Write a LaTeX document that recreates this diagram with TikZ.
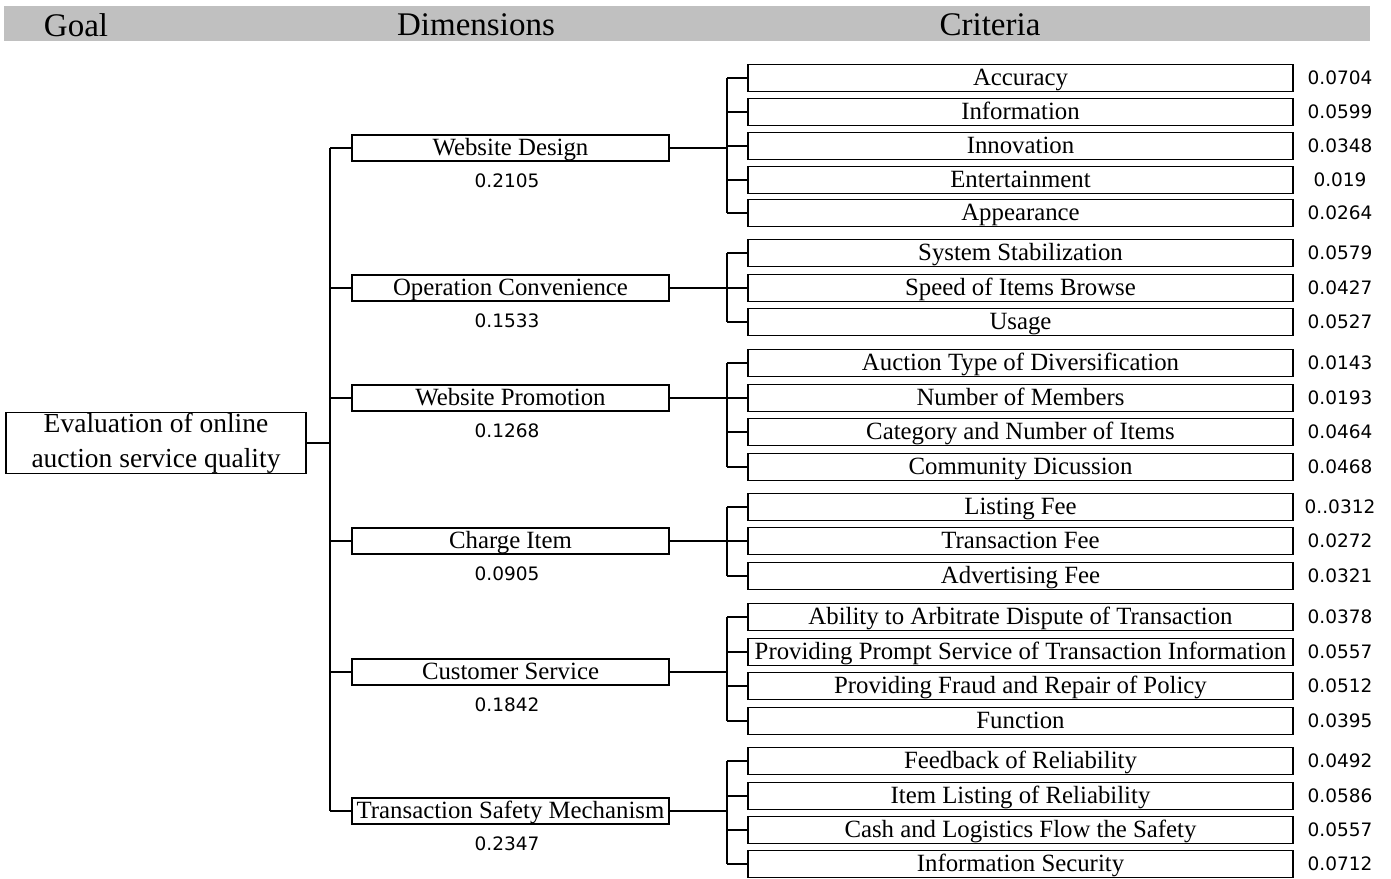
\documentclass[tikz,border=0pt]{standalone}
\usepackage{fontspec}
\setmainfont{Liberation Serif}
\newfontfamily\numfont{DejaVu Sans}
\definecolor{headgray}{RGB}{192,192,192}
\tikzset{
  crit/.style={draw, line width=1.2pt, minimum width=545pt, minimum height=27pt, inner sep=0pt, text height=18pt, text depth=4pt, font=\fontsize{24.8}{25}\selectfont},
  dimbox/.style={draw, line width=1.2pt, minimum width=317pt, minimum height=26pt, inner sep=0pt, text height=18pt, text depth=4pt, font=\fontsize{24.8}{25}\selectfont},
  val/.style={font=\numfont\fontsize{18.5}{18.5}\selectfont, inner sep=0pt},
  head/.style={font=\fontsize{33}{33}\selectfont, inner sep=0pt},
  conn/.style={line width=1.2pt}
}
\begin{document}
\begin{tikzpicture}[x=1pt,y=-1pt]
\useasboundingbox (0,0) rectangle (1391,878);
\fill[headgray] (4,6) rectangle (1370,41);
\node[head] (hg) at (76,25) {Goal};
\node[head] (hd) at (476,25) {Dimensions};
\node[head] (hc) at (990,25) {Criteria};

\node[draw, line width=1.2pt, minimum width=300pt, minimum height=61pt, inner sep=0pt, align=center, font=\fontsize{27.5}{35}\selectfont] (goal) at (156,443) {Evaluation of online\\auction service quality};

\coordinate (gt) at (330,443);
\coordinate (ct) at (727,443);

\foreach \i/\y/\t/\v in {1/148/Website Design/0.2105, 2/288/Operation Convenience/0.1533, 3/398/Website Promotion/0.1268, 4/541/Charge Item/0.0905, 5/672/Customer Service/0.1842, 6/811/Transaction Safety Mechanism/0.2347}{
  \node[dimbox] (d\i) at (510.5,\y) {\t};
  \node[val] (dv\i) at (507,\y+33) {\v};
  \draw[conn] (d\i.west -| gt) -- (d\i.west);
  \draw[conn] (d\i.east) -- (d\i.east -| ct);
}
\draw[conn] (goal.east) -- (gt);
\draw[conn] (d1.west -| gt) -- (d6.west -| gt);

\foreach \i/\y/\t/\v in {1/78/Accuracy/0.0704, 2/112/Information/0.0599, 3/146/Innovation/0.0348, 4/180/Entertainment/0.019, 5/213/Appearance/0.0264, 6/253/System Stabilization/0.0579, 7/288/Speed of Items Browse/0.0427, 8/322/Usage/0.0527, 9/363/Auction Type of Diversification/0.0143, 10/398/Number of Members/0.0193, 11/432/Category and Number of Items/0.0464, 12/467/Community Dicussion/0.0468, 13/507/Listing Fee/0..0312, 14/541/Transaction Fee/0.0272, 15/576/Advertising Fee/0.0321, 16/617/Ability to Arbitrate Dispute of Transaction/0.0378, 17/652/Providing Prompt Service of Transaction Information/0.0557, 18/686/Providing Fraud and Repair of Policy/0.0512, 19/721/Function/0.0395, 20/761/Feedback of Reliability/0.0492, 21/796/Item Listing of Reliability/0.0586, 22/830/Cash and Logistics Flow the Safety/0.0557, 23/864/Information Security/0.0712}{
  \node[crit] (c\i) at (1020.5,\y) {\t};
  \node[val] (cv\i) at (1340,\y) {\v};
  \draw[conn] (c\i.west -| ct) -- (c\i.west);
}
\draw[conn] (c1.west -| ct) -- (c5.west -| ct);
\draw[conn] (c6.west -| ct) -- (c8.west -| ct);
\draw[conn] (c9.west -| ct) -- (c12.west -| ct);
\draw[conn] (c13.west -| ct) -- (c15.west -| ct);
\draw[conn] (c16.west -| ct) -- (c19.west -| ct);
\draw[conn] (c20.west -| ct) -- (c23.west -| ct);
\end{tikzpicture}
\end{document}
